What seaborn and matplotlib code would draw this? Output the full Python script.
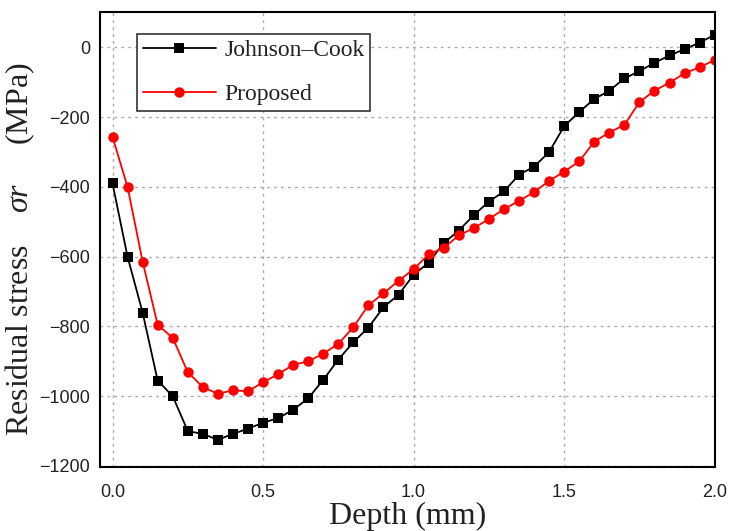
import numpy as np
import pandas as pd
import matplotlib
matplotlib.use("Agg")
import matplotlib.pyplot as plt
import seaborn as sns
from matplotlib.ticker import MultipleLocator

# Depth samples (mm)
depth = [round(0.05 * i, 2) for i in range(41)]

# Residual stress (MPa) for the two constitutive models
johnson_cook = [
    -390, -600, -760, -955, -1000, -1100, -1108, -1125, -1108, -1093,
    -1076, -1063, -1039, -1006, -953, -895, -845, -803, -745, -709,
    -652, -617, -561, -525, -481, -442, -413, -365, -342, -300,
    -226, -185, -148, -124, -89, -68, -44, -23, -5, 14,
    36,
]
proposed = [
    -256, -400, -614, -795, -833, -931, -974, -993, -983, -986,
    -960, -937, -910, -900, -878, -850, -802, -739, -705, -669,
    -636, -593, -575, -539, -518, -492, -464, -440, -415, -383,
    -356, -327, -270, -244, -222, -157, -124, -101, -74, -57,
    -36,
]

df = pd.DataFrame({"depth": depth, "jc": johnson_cook, "prop": proposed})

sns.set_style("white")
plt.rcParams["font.family"] = ["Liberation Sans", "DejaVu Sans"]
plt.rcParams["mathtext.fontset"] = "custom"
plt.rcParams["mathtext.rm"] = "Liberation Serif"
plt.rcParams["mathtext.it"] = "Liberation Serif:italic"

fig = plt.figure(figsize=(7.3, 5.31), dpi=100)
ax = fig.add_axes([0.137, 0.1205, 0.842, 0.8565])

sns.lineplot(data=df, x="depth", y="jc", ax=ax, color="black", marker="s",
             markersize=7, markeredgewidth=0, linewidth=1.3,
             label="Johnson\u2013Cook")
sns.lineplot(data=df, x="depth", y="prop", ax=ax, color="#ff0000", marker="o",
             markersize=7.5, markeredgewidth=0, linewidth=1.3,
             label="Proposed")

ax.set_xlim(-0.0415, 2.0)
ax.set_ylim(-1203, 101)
ax.xaxis.set_minor_locator(MultipleLocator(0.25))
ax.yaxis.set_minor_locator(MultipleLocator(100))
ax.set_xticks([0.0, 0.5, 1.0, 1.5, 2.0])
ax.set_xticklabels(["0.0", "0.5", "1.0", "1.5", "2.0"])
ax.set_yticks([0, -200, -400, -600, -800, -1000, -1200])
ax.set_yticklabels(["0", "\u2212200", "\u2212400", "\u2212600", "\u2212800",
                    "\u22121000", "\u22121200"])

ax.tick_params(axis="both", which="both", direction="in", top=False,
               right=False, labelsize=13, colors="black", labelcolor="#222222")
ax.tick_params(which="major", length=6, width=1.2)
ax.tick_params(which="minor", length=4, width=1.2)
ax.tick_params(axis="x", pad=12)
ax.tick_params(axis="y", pad=7)

ax.grid(True, which="major", linestyle=(0, (2, 3)), color="#aaaaaa",
        linewidth=1.0)
for s in ax.spines.values():
    s.set_color("black")
    s.set_linewidth(1.5)

ax.set_xlabel("Depth (mm)", fontsize=23, family="Liberation Serif",
              labelpad=1, color="#222222")
ax.set_ylabel("Residual stress    $\\sigma r$     (MPa)", fontsize=23,
              family="Liberation Serif", color="#222222")
ax.yaxis.set_label_coords(-0.102, 0.48)

leg = ax.legend(loc="upper left", bbox_to_anchor=(0.06, 0.952),
                borderaxespad=0, frameon=True, fancybox=False,
                edgecolor="#333333", framealpha=1, handlelength=3.1,
                prop={"family": "Liberation Serif", "size": 17},
                borderpad=0.25, labelspacing=0.95, handletextpad=0.35)
leg.get_frame().set_linewidth(1.2)
for t in leg.get_texts():
    t.set_color("#222222")

fig.savefig("out.png", dpi=100)
